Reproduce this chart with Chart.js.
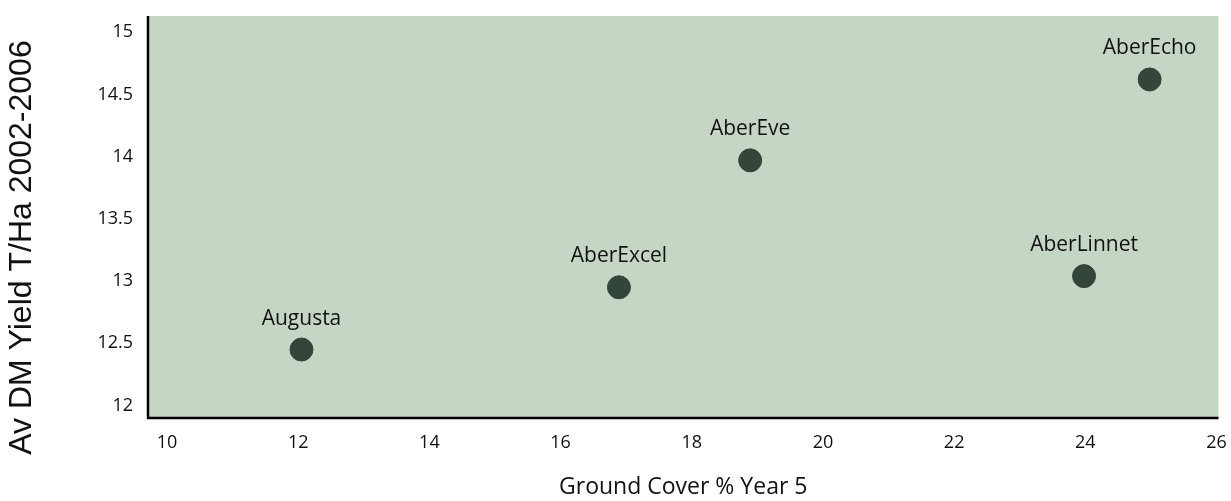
<!DOCTYPE html>
<html>
<head>
<meta charset="utf-8">
<script src="https://cdn.jsdelivr.net/npm/chart.js@4/dist/chart.umd.min.js"></script>
<style>
  html, body { margin: 0; padding: 0; background: #ffffff; }
  #wrap { width: 1231px; height: 501px; position: relative; }
</style>
</head>
<body>
<div id="wrap"><canvas id="c" width="1231" height="501"></canvas></div>
<script>
// ---- data ----
const varieties = ["Augusta", "AberExcel", "AberEve", "AberLinnet", "AberEcho"];
const groundCover = [12.05, 16.89, 18.89, 23.98, 24.98];
const dmYield = [12.45, 12.95, 13.97, 13.04, 14.62];
const xTickValues = [10, 12, 14, 16, 18, 20, 22, 24, 26];
const yTickValues = [12, 12.5, 13, 13.5, 14, 14.5, 15];

const xTitle = "Ground Cover % Year 5";
const yTitle = "Av DM Yield T/Ha 2002-2006";

const points = varieties.map((v, i) => ({ x: groundCover[i], y: dmYield[i], label: v }));

const plotBg = {
  id: 'plotBg',
  beforeDraw(chart) {
    const { ctx, chartArea: a } = chart;
    ctx.save();
    ctx.fillStyle = '#c5d6c4';
    ctx.fillRect(a.left, a.top, a.right - a.left, a.bottom - a.top);
    ctx.restore();
  }
};

const axisLines = {
  id: 'axisLines',
  afterDatasetsDraw(chart) {
    const { ctx, chartArea: a } = chart;
    ctx.save();
    ctx.strokeStyle = '#000';
    ctx.lineWidth = 2.5;
    ctx.beginPath();
    ctx.moveTo(a.left, a.top);
    ctx.lineTo(a.left, a.bottom);
    ctx.lineTo(a.right, a.bottom);
    ctx.stroke();
    ctx.restore();
  }
};

const pointLabels = {
  id: 'pointLabels',
  afterDatasetsDraw(chart) {
    const { ctx } = chart;
    const meta = chart.getDatasetMeta(0);
    ctx.save();
    ctx.font = '21px "Open Sans"';
    ctx.fillStyle = '#111';
    ctx.textAlign = 'center';
    ctx.textBaseline = 'alphabetic';
    meta.data.forEach((el, i) => {
      ctx.fillText(varieties[i], el.x, el.y - 25);
    });
    ctx.restore();
  }
};

const yTitlePlugin = {
  id: 'yTitlePlugin',
  afterDraw(chart) {
    const { ctx } = chart;
    ctx.save();
    ctx.font = '32px "Liberation Sans"';
    ctx.fillStyle = '#111';
    ctx.textAlign = 'center';
    ctx.textBaseline = 'middle';
    ctx.translate(22, chart.height / 2 - 3);
    ctx.rotate(-Math.PI / 2);
    ctx.fillText(yTitle, 0, 0);
    ctx.restore();
  }
};

new Chart(document.getElementById('c'), {
  type: 'scatter',
  data: {
    datasets: [{
      data: points,
      backgroundColor: '#34463a',
      borderColor: '#34463a',
      pointRadius: 11.5,
      pointHoverRadius: 11.5
    }]
  },
  options: {
    responsive: false,
    animation: false,
    events: [],
    layout: { padding: { left: 6, right: 0, top: 16, bottom: 0 } },
    plugins: { legend: { display: false }, tooltip: { enabled: false } },
    scales: {
      x: {
        type: 'linear',
        min: 9.71,
        max: 26.03,
        afterBuildTicks(scale) { scale.ticks = xTickValues.map(v => ({ value: v })); },
        afterFit(scale) { scale.height = 83; scale.paddingLeft = 0; scale.paddingRight = 0; },
        grid: { display: false, drawTicks: false },
        border: { display: false },
        ticks: {
          padding: 14,
          color: '#111',
          font: { family: 'Open Sans', size: 18 },
          maxRotation: 0,
          autoSkip: false,
          callback: v => String(v)
        },
        title: {
          display: true,
          text: xTitle,
          color: '#111',
          font: { family: 'Open Sans', size: 23 },
          padding: { top: 20, bottom: 0 }
        }
      },
      y: {
        type: 'linear',
        min: 11.9,
        max: 15.13,
        afterBuildTicks(scale) { scale.ticks = yTickValues.map(v => ({ value: v })); },
        afterFit(scale) { scale.width = 142; scale.paddingTop = 0; scale.paddingBottom = 0; },
        grid: { display: false, drawTicks: false },
        border: { display: false },
        ticks: {
          padding: 15,
          color: '#111',
          font: { family: 'Open Sans', size: 18 },
          autoSkip: false,
          callback: v => String(v)
        },
        title: { display: false }
      }
    }
  },
  plugins: [plotBg, axisLines, pointLabels, yTitlePlugin]
});
</script>
</body>
</html>
